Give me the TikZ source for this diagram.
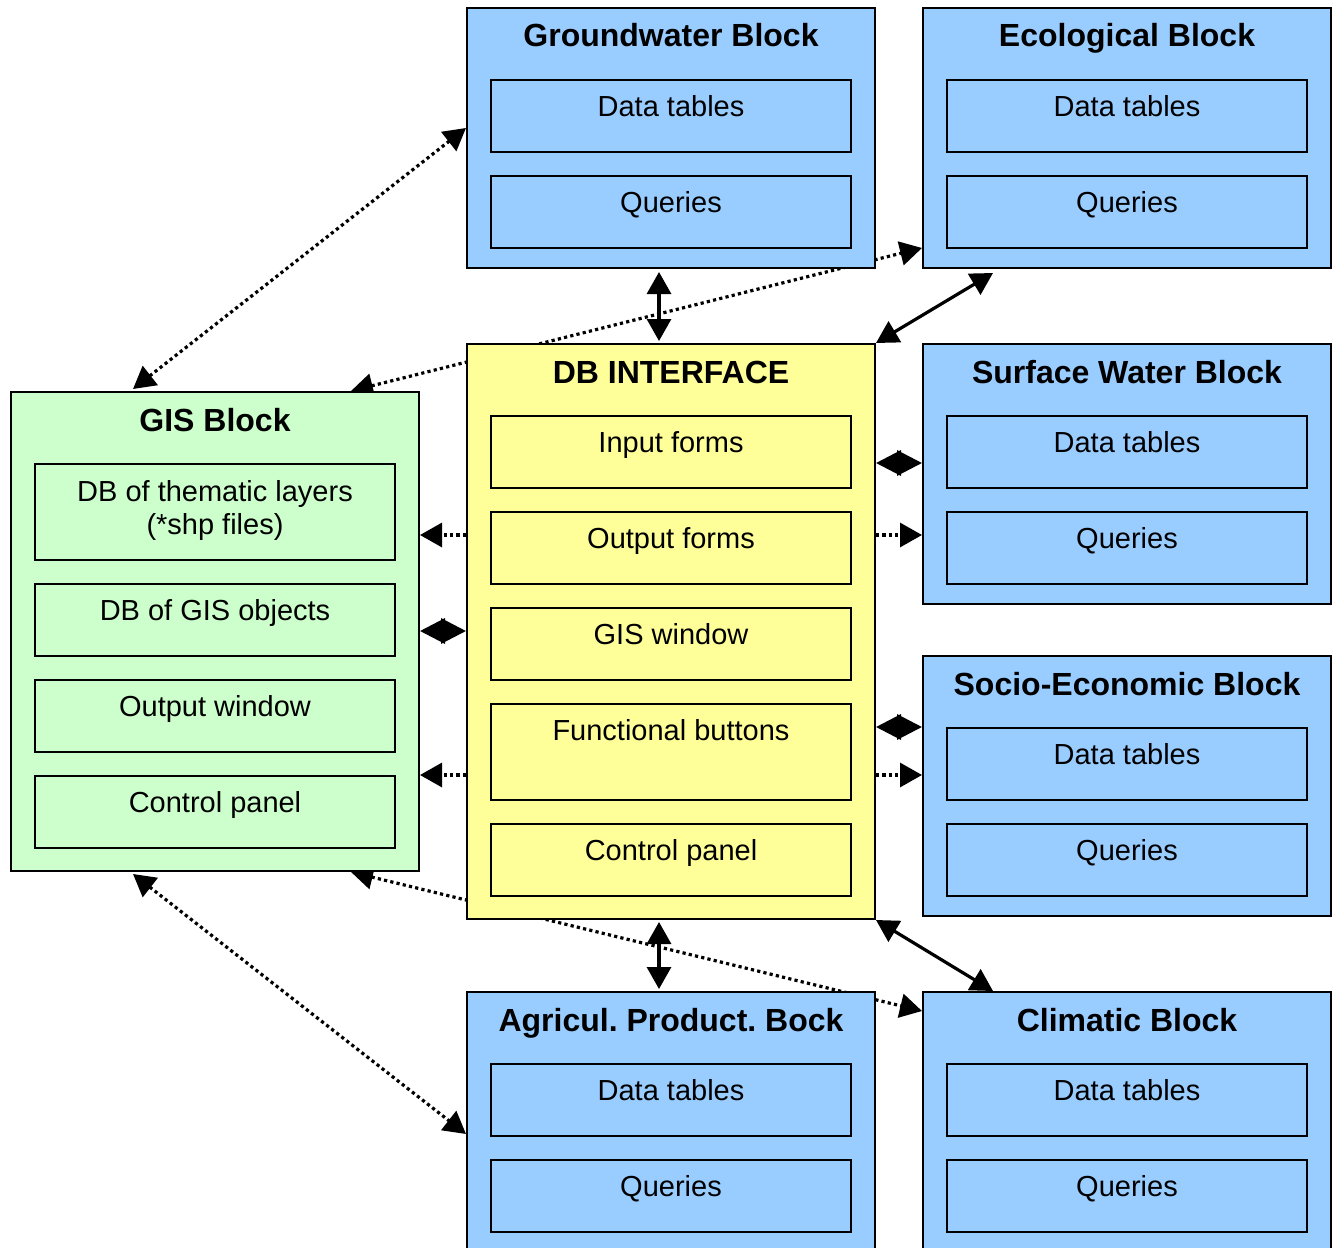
\documentclass[tikz,border=0pt]{standalone}
\usepackage{fontspec}
\setmainfont{Liberation Sans}
\frenchspacing
\usetikzlibrary{arrows.meta,calc,backgrounds}

\definecolor{blockblue}{HTML}{99CCFF}
\definecolor{dbyellow}{HTML}{FFFF99}
\definecolor{gisgreen}{HTML}{CCFFCC}

\begin{document}
\begin{tikzpicture}[x=0.5pt, y=-0.5pt, >={Triangle[length=11pt,width=12pt]},
  outerbox/.style={draw, line width=1pt, anchor=north west, minimum width=204pt, inner sep=0pt},
  innerbox/.style={draw, line width=1pt, anchor=north west, minimum width=180pt, minimum height=36pt, inner sep=0pt},
  titletext/.style={anchor=base, inner sep=0pt, font=\bfseries\fontsize{16}{19}\selectfont},
  boxtext/.style={anchor=north, inner sep=0pt, align=center, font=\fontsize{14.5}{16.5}\selectfont},
  solidlink/.style={line width=1.6pt},
  diamondlink/.style={line width=1.6pt, {Triangle[length=12.5pt,width=12.5pt]}-{Triangle[length=12.5pt,width=12.5pt]}},
  dotlink/.style={line width=1.6pt, dash pattern=on 1.6pt off 1.6pt}]
\useasboundingbox (0,0) rectangle (1337,1247);

\foreach \name/\x/\y/\title in {gw/466/7/Groundwater Block, eco/922/7/Ecological Block,
    sw/922/343/Surface Water Block, se/922/655/Socio-Economic Block,
    agr/466/991/Agricul. Product. Bock, clim/922/991/Climatic Block}{
  \node[outerbox, fill=blockblue, minimum height=130pt] (\name) at (\x,\y) {};
  \node[titletext] (\name-title) at ($(\name.north)+(0,40)$) {\title};
  \node[innerbox, fill=blockblue] (\name-dt) at ($(\name.north west)+(24,72)$) {};
  \node[boxtext] (\name-dtl) at ($(\name-dt.north)+(0,16)$) {Data tables};
  \node[innerbox, fill=blockblue] (\name-q) at ($(\name.north west)+(24,168)$) {};
  \node[boxtext] (\name-ql) at ($(\name-q.north)+(0,16)$) {Queries};
}

\node[outerbox, fill=dbyellow, minimum height=287.5pt] (db) at (466,343) {};
\node[titletext] (db-title) at ($(db.north)+(0,40)$) {DB INTERFACE};
\node[innerbox, fill=dbyellow] (db-in) at ($(db.north west)+(24,72)$) {};
\node[boxtext] (db-inl) at ($(db-in.north)+(0,16)$) {Input forms};
\node[innerbox, fill=dbyellow] (db-out) at ($(db.north west)+(24,168)$) {};
\node[boxtext] (db-outl) at ($(db-out.north)+(0,16)$) {Output forms};
\node[innerbox, fill=dbyellow] (db-gis) at ($(db.north west)+(24,264)$) {};
\node[boxtext] (db-gisl) at ($(db-gis.north)+(0,16)$) {GIS window};
\node[innerbox, fill=dbyellow, minimum height=48pt] (db-fb) at ($(db.north west)+(24,360)$) {};
\node[boxtext] (db-fbl) at ($(db-fb.north)+(0,16)$) {Functional buttons};
\node[innerbox, fill=dbyellow] (db-cp) at ($(db.north west)+(24,480)$) {};
\node[boxtext] (db-cpl) at ($(db-cp.north)+(0,16)$) {Control panel};

\node[outerbox, fill=gisgreen, minimum height=239.5pt] (gis) at (10,391) {};
\node[titletext] (gis-title) at ($(gis.north)+(0,40)$) {GIS Block};
\node[innerbox, fill=gisgreen, minimum height=48pt] (gis-th) at ($(gis.north west)+(24,72)$) {};
\node[boxtext] (gis-thl) at ($(gis-th.north)+(0,17)$) {DB of thematic layers\\(*shp files)};
\node[innerbox, fill=gisgreen] (gis-obj) at ($(gis.north west)+(24,192)$) {};
\node[boxtext] (gis-objl) at ($(gis-obj.north)+(0,16)$) {DB of GIS objects};
\node[innerbox, fill=gisgreen] (gis-ow) at ($(gis.north west)+(24,288)$) {};
\node[boxtext] (gis-owl) at ($(gis-ow.north)+(0,16)$) {Output window};
\node[innerbox, fill=gisgreen] (gis-cp) at ($(gis.north west)+(24,384)$) {};
\node[boxtext] (gis-cpl) at ($(gis-cp.north)+(0,16)$) {Control panel};

\draw[solidlink,<->] ($(gw.south)+(-12,3)$) -- ($(db.north)+(-12,-2)$);
\draw[solidlink,<->] ($(db.south)+(-12,2)$) -- ($(agr.north)+(-12,-2)$);
\draw[solidlink,<->] (db.north east) -- ($(eco.south west)+(71,4)$);
\draw[solidlink,<->] (db.south east) -- ($(clim.north west)+(71,0)$);

\draw[diamondlink] ($(db.north east)+(0,120)$) -- ($(sw.north west)+(0,120)$);
\draw[dotlink,->] ($(db.north east)+(0,192)$) -- ($(sw.north west)+(0,192)$);
\draw[diamondlink] ($(db.north east)+(0,384)$) -- ($(se.north west)+(0,72)$);
\draw[dotlink,->] ($(db.north east)+(0,432)$) -- ($(se.north west)+(0,120)$);

\draw[dotlink,->] ($(db.north west)+(0,192)$) -- ($(gis.north east)+(0,144)$);
\draw[diamondlink] ($(db.north west)+(0,288)$) -- ($(gis.north east)+(0,240)$);
\draw[dotlink,->] ($(db.north west)+(0,432)$) -- ($(gis.north east)+(0,384)$);

\draw[dotlink,<->] ($(gis.north west)+(123,-2)$) -- ($(gw.north west)+(0,121)$);
\draw[dotlink,<->] ($(gis.south west)+(123,2)$) -- ($(agr.north west)+(0,143)$);

\begin{pgfonlayer}{background}
\draw[dotlink,<->] ($(gis.north east)+(-69,0)$) -- ($(eco.north west)+(0,241)$);
\draw[dotlink,<->] ($(gis.south east)+(-69,0)$) -- ($(clim.north west)+(0,20)$);
\end{pgfonlayer}
\end{tikzpicture}
\end{document}
